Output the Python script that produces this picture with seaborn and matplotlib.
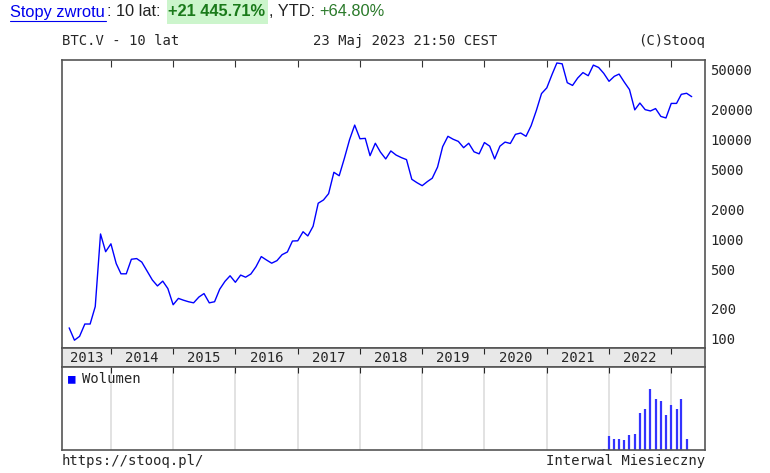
import matplotlib
matplotlib.use("Agg")
import matplotlib.pyplot as plt
import matplotlib.dates as mdates
import seaborn as sns
import pandas as pd
import numpy as np

sns.set_style("white")
plt.rcParams['font.family'] = ['DejaVu Sans Mono']

start_month = "2013-05-01"
prices = [129, 97, 106, 141, 141, 211, 1130, 750,
          900, 570, 450, 450, 630, 640, 590, 480, 390, 340, 380, 320,
          220, 255, 245, 236, 230, 263, 285, 230, 236, 315, 378, 430,
          370, 437, 416, 448, 530, 670, 620, 575, 610, 700, 745, 960,
          965, 1190, 1080, 1350, 2300, 2480, 2870, 4700, 4340, 6450, 10000, 14000,
          10200, 10300, 6900, 9200, 7500, 6400, 7700, 7000, 6600, 6300, 4000, 3700,
          3450, 3800, 4100, 5300, 8500, 10800, 10100, 9600, 8300, 9200, 7550, 7200,
          9350, 8600, 6400, 8600, 9450, 9150, 11300, 11650, 10800, 13800, 19700, 29000,
          33100, 45200, 58800, 57700, 37300, 35000, 41500, 47100, 43800, 56000, 53000, 46300,
          38500, 43200, 45500, 37700, 31800, 19900, 23300, 20000, 19400, 20500, 17100, 16500,
          23100, 23100, 28500, 29200, 27000]
vol_start = "2021-12-01"
volumes = [2, 41, 34, 34, 30, 45, 49, 110, 124, 184, 154, 147, 106, 136, 124, 154, 34]
years = list(range(2013, 2023))
yticks = [100, 200, 500, 1000, 2000, 5000, 10000, 20000, 50000]

dates = pd.date_range(start_month, periods=len(prices), freq="MS")
df = pd.DataFrame({"date": dates, "price": prices})
vdates = pd.date_range(vol_start, periods=len(volumes), freq="MS")
vdf = pd.DataFrame({"date": vdates, "vol": volumes})

W, H = 770, 473
fig = plt.figure(figsize=(W/100, H/100), dpi=100)
def rect(x0, y0, x1, y1):
    return [x0/W, 1-y1/H, (x1-x0)/W, (y1-y0)/H]

xmin = pd.Timestamp("2013-03-20"); xmax = pd.Timestamp("2023-07-18")
ax = fig.add_axes(rect(62, 60, 705, 348))
band = fig.add_axes(rect(62, 348, 705, 367))
axv = fig.add_axes(rect(62, 367, 705, 450))

sns.lineplot(data=df, x="date", y="price", ax=ax, color="#0000ff", linewidth=1)
ax.set_yscale("log")
ax.set_ylim(81, 63000)
ax.set_xlim(xmin, xmax)
ax.yaxis.tick_right()
ax.set_yticks(yticks)
ax.set_yticklabels([str(v) for v in yticks], fontsize=10)
ax.minorticks_off()
ax.tick_params(axis="y", length=0, pad=4)
ax.set_xlabel(""); ax.set_ylabel("")
ybounds = [pd.Timestamp(f"{y}-01-01") for y in range(2014, 2024)]
ax.set_xticks(ybounds)
ax.tick_params(axis="x", direction="in", top=True, bottom=False, labelbottom=False, length=5, color="#333333")

band.set_facecolor("#e8e8e8")
band.set_xlim(xmin, xmax); band.set_ylim(0, 1)
band.set_yticks([])
band.set_xticks(ybounds)
band.tick_params(axis="x", direction="in", bottom=False, top=True, labelbottom=False, length=4)
for y in years:
    c = pd.Timestamp(f"{y}-07-01") if y > 2013 else pd.Timestamp("2013-08-15")
    band.text(c, 0.45, str(y), ha="center", va="center", fontsize=10)

axv.vlines(vdf["date"], 0, vdf["vol"], color="#3333ff", linewidth=1.6)
axv.set_xlim(xmin, xmax); axv.set_ylim(0, 250)
axv.set_yticks([])
axv.set_xticks(ybounds)
axv.tick_params(axis="x", direction="in", top=True, bottom=False, labelbottom=False, length=4)
for b in ybounds:
    axv.axvline(b, color="#dddddd", lw=1.2, zorder=0)
axv.text(0.01, 0.86, "\u25a0", color="#0000ff", transform=axv.transAxes, fontsize=9, va="center")
axv.text(0.031, 0.86, "Wolumen", transform=axv.transAxes, fontsize=10, va="center")

for a in (ax, band, axv):
    for s in a.spines.values():
        s.set_color("#555555"); s.set_linewidth(1.2)

fig.text(62/W, 1-41/H, "BTC.V - 10 lat", fontsize=10, va="center")
fig.text(405/W, 1-41/H, "23 Maj 2023 21:50 CEST", fontsize=10, va="center", ha="center")
fig.text(705/W, 1-41/H, "(C)Stooq", fontsize=10, va="center", ha="right")
fig.text(62/W, 1-461/H, "https://stooq.pl/", fontsize=10, va="center")
fig.text(705/W, 1-461/H, "Interwal Miesieczny", fontsize=10, va="center", ha="right")

hf = ['Liberation Sans']
ty = 1-12/H
fs = 11.8
fig.text(10/W, ty, "Stopy zwrotu", color="#0000ee", fontsize=fs, va="center", family=hf)
fig.add_artist(plt.Line2D([10/W, 106/W], [1-21/H, 1-21/H], color="#0000ee", lw=0.8))
fig.text(107/W, ty, ": 10 lat:", color="#222222", fontsize=fs, va="center", family=hf)
fig.patches.append(plt.Rectangle((167/W, 1-24/H), 101/W, 24/H, transform=fig.transFigure,
                                 facecolor="#ccf5cc", edgecolor="none"))
fig.text(168/W, ty, "+21 445.71%", color="#1a7a1a", fontsize=fs, fontweight="bold", va="center", family=hf)
fig.text(269/W, ty, ", YTD:", color="#222222", fontsize=fs, va="center", family=hf)
fig.text(319/W, ty, "+64.80%", color="#2a7a2a", fontsize=fs, va="center", family=hf)

fig.savefig("out.png", dpi=100)
